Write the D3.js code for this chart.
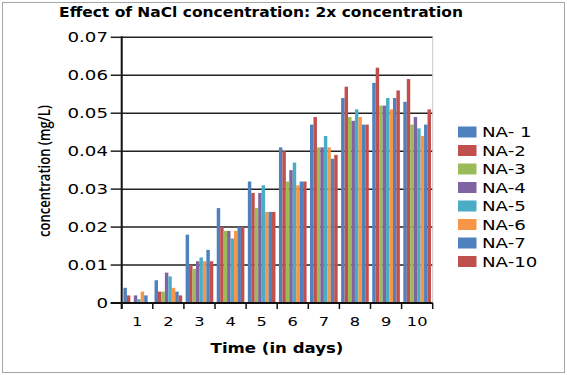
<!DOCTYPE html>
<html>
<head>
<meta charset="utf-8">
<script src="https://cdn.jsdelivr.net/npm/d3@7"></script>
<style>
  html, body { margin: 0; padding: 0; background: #fff; }
  svg { display: block; }
</style>
</head>
<body>
<svg id="chart"></svg>
<script>
// NaCl 2x 濃度圖表
const days = ['1', '2', '3', '4', '5', '6', '7', '8', '9', '10'];
const seriesNames = ['NA- 1', 'NA-2', 'NA-3', 'NA-4', 'NA-5', 'NA-6', 'NA-7', 'NA-10'];
const yTicks = [0, 0.01, 0.02, 0.03, 0.04, 0.05, 0.06, 0.07];
const yTickLabels = ['0', '0.01', '0.02', '0.03', '0.04', '0.05', '0.06', '0.07'];

const na1  = [0.004, 0.006, 0.018, 0.025, 0.032, 0.041, 0.047, 0.054, 0.058, 0.053];
const na2  = [0.002, 0.003, 0.010, 0.020, 0.029, 0.040, 0.049, 0.057, 0.062, 0.059];
const na3  = [0.000, 0.003, 0.009, 0.019, 0.025, 0.032, 0.041, 0.049, 0.052, 0.047];
const na4  = [0.002, 0.008, 0.011, 0.019, 0.029, 0.035, 0.041, 0.048, 0.052, 0.049];
const na5  = [0.001, 0.007, 0.012, 0.017, 0.031, 0.037, 0.044, 0.051, 0.054, 0.046];
const na6  = [0.003, 0.004, 0.011, 0.019, 0.024, 0.031, 0.041, 0.049, 0.051, 0.044];
const na7  = [0.002, 0.003, 0.014, 0.020, 0.024, 0.032, 0.038, 0.047, 0.054, 0.047];
const na10 = [0.000, 0.002, 0.011, 0.020, 0.024, 0.032, 0.039, 0.047, 0.056, 0.051];

const seriesValues = [na1, na2, na3, na4, na5, na6, na7, na10];
const colors = ['#4F81BD', '#C0504D', '#9BBB59', '#8064A2', '#4BACC6', '#F79646', '#4F81BD', '#C0504D'];

const W = 567, H = 375;
const plot = { left: 121.7, right: 432.7, top: 37.3, bottom: 303 };
const STRETCH = 1.3; // 原圖文字橫向拉寬

const svg = d3.select('#chart').attr('width', W).attr('height', H);

// 外框
svg.append('rect')
  .attr('x', 2.5).attr('y', 2.5).attr('width', 562).attr('height', 370)
  .attr('fill', '#fff').attr('stroke', '#a6a6a6').attr('stroke-width', 1);

const x0 = d3.scaleBand().domain(days)
  .range([plot.left, plot.right])
  .paddingInner(1 / 9).paddingOuter(1 / 18);
const x1 = d3.scaleBand().domain(seriesNames).range([0, x0.bandwidth()]);
const y = d3.scaleLinear().domain([0, 0.07]).range([plot.bottom, plot.top]);

// 文字：橫向拉伸
function stretchedText(g, x, yy, str, opts) {
  const t = g.append('text')
    .attr('font-family', opts.family || 'DejaVu Sans')
    .attr('font-size', opts.size)
    .attr('font-weight', opts.weight || 'normal')
    .attr('fill', '#000')
    .attr('text-anchor', opts.anchor || 'start')
    .text(str);
  let sx = opts.sx || STRETCH;
  if (opts.width) sx = opts.width / t.node().getComputedTextLength();
  const rot = opts.rotate ? ` rotate(${opts.rotate})` : '';
  t.attr('transform', `translate(${x},${yy})${rot} scale(${sx},1)`);
  return t;
}

// 格線
svg.append('g')
  .selectAll('line')
  .data(yTicks.slice(1))
  .join('line')
  .attr('x1', plot.left).attr('x2', plot.right)
  .attr('y1', d => y(d)).attr('y2', d => y(d))
  .attr('stroke', '#222').attr('stroke-width', 1.5);

// 右側邊線
svg.append('line')
  .attr('x1', plot.right).attr('x2', plot.right)
  .attr('y1', plot.top).attr('y2', plot.bottom)
  .attr('stroke', '#c8c8c8').attr('stroke-width', 1);

// 長條
const groups = svg.append('g')
  .selectAll('g')
  .data(days)
  .join('g')
  .attr('transform', d => `translate(${x0(d)},0)`);

groups.selectAll('rect')
  .data((d, i) => seriesNames.map((name, s) => ({ name, s, v: seriesValues[s][i] })))
  .join('rect')
  .attr('x', d => x1(d.name))
  .attr('width', x1.bandwidth())
  .attr('y', d => y(d.v))
  .attr('height', d => y(0) - y(d.v))
  .attr('fill', d => colors[d.s]);

// Y 軸
const yAxis = svg.append('g');
yAxis.append('line')
  .attr('x1', plot.left).attr('x2', plot.left)
  .attr('y1', plot.top - 1).attr('y2', plot.bottom + 6)
  .attr('stroke', '#111').attr('stroke-width', 2);
yAxis.selectAll('line.tick')
  .data(yTicks)
  .join('line')
  .attr('class', 'tick')
  .attr('x1', plot.left - 11).attr('x2', plot.left)
  .attr('y1', d => y(d)).attr('y2', d => y(d))
  .attr('stroke', '#222').attr('stroke-width', 1.5);
yTicks.forEach((t, i) => {
  stretchedText(yAxis, 108, y(t) + 5, yTickLabels[i], { size: 14, anchor: 'end' });
});

// X 軸
const xAxis = svg.append('g');
xAxis.append('line')
  .attr('x1', plot.left - 11).attr('x2', plot.right)
  .attr('y1', plot.bottom).attr('y2', plot.bottom)
  .attr('stroke', '#111').attr('stroke-width', 2);
const step = x0.step();
const bounds = d3.range(days.length + 1).map(i => x0(days[0]) - x0.step() * x0.paddingOuter() + i * step);
xAxis.selectAll('line.tick')
  .data(bounds)
  .join('line')
  .attr('class', 'tick')
  .attr('x1', d => d).attr('x2', d => d)
  .attr('y1', plot.bottom).attr('y2', plot.bottom + 6)
  .attr('stroke', '#111').attr('stroke-width', 1.5);
days.forEach(d => {
  stretchedText(xAxis, x0(d) + x0.bandwidth() / 2, 325.5, d, { size: 12.5, anchor: 'middle' });
});

// 標題與軸名
stretchedText(svg, 261, 17.3, 'Effect of NaCl concentration: 2x concentration',
  { size: 14.5, weight: 'bold', anchor: 'middle', width: 404 });
stretchedText(svg, 277, 353, 'Time (in days)',
  { size: 14, weight: 'bold', anchor: 'middle', width: 133 });
stretchedText(svg, 50, 171, 'concentration (mg/L)',
  { family: 'Open Sans', size: 15.5, weight: 600, anchor: 'middle', width: 132, rotate: -90 });

// 圖例
const legend = svg.append('g');
seriesNames.forEach((name, i) => {
  const cy = 132 + i * 18.5;
  legend.append('rect')
    .attr('x', 458).attr('y', cy - 5.5)
    .attr('width', 18.5).attr('height', 11)
    .attr('fill', colors[i]);
  stretchedText(legend, 482, cy + 5, name, { size: 14 });
});
</script>
</body>
</html>
